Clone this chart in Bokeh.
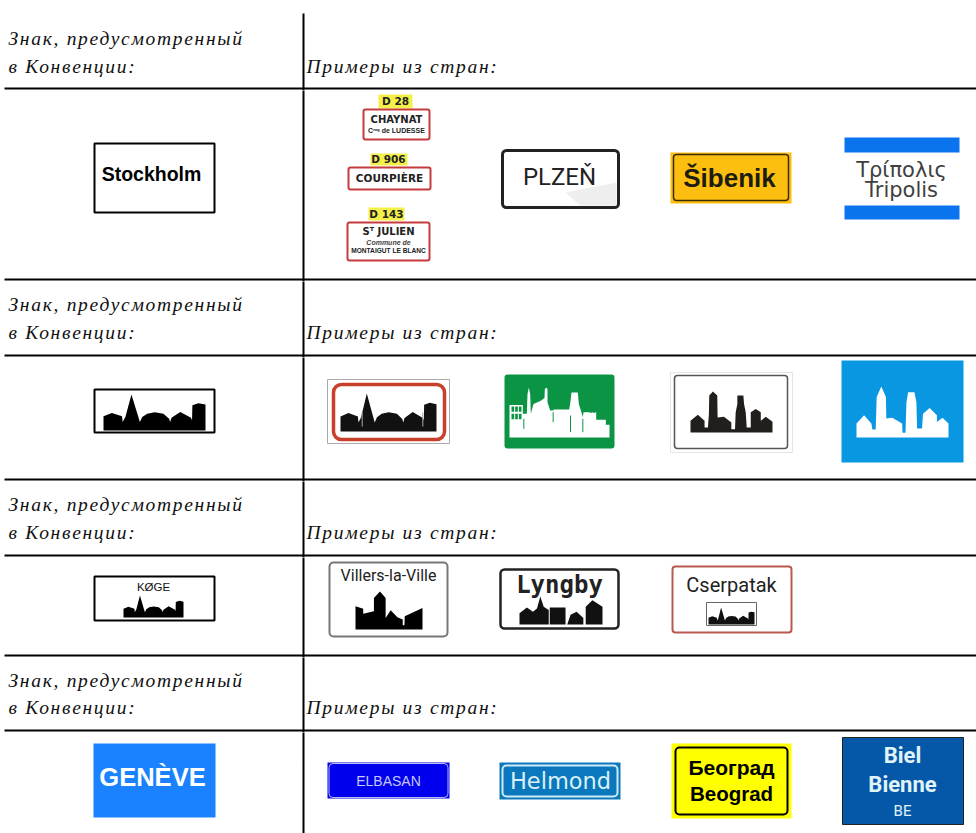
from bokeh.embed import file_html
from bokeh.layouts import column
from bokeh.models import Range1d
from bokeh.plotting import figure
from bokeh.resources import INLINE

# Text content of the table
HEADER_LEFT = ["Знак, предусмотренный", "в Конвенции:"]
HEADER_RIGHT = "Примеры из стран:"
STOCKHOLM = "Stockholm"
ROUTE_LABELS = ["D 28", "D 906", "D 143"]
CHAYNAT = ["CHAYNAT", "Cᵐᵉ de LUDESSE"]
COURPIERE = "COURPIÈRE"
JULIEN = ["Sᵀ JULIEN", "Commune de", "MONTAIGUT LE BLANC"]
PLZEN = "PLZEŇ"
SIBENIK = "Šibenik"
TRIPOLIS = ["Τρίπολις", "Tripolis"]
KOGE = "KØGE"
VILLERS = "Villers-la-Ville"
LYNGBY = "Lyngby"
CSERPATAK = "Cserpatak"
GENEVE = "GENÈVE"
ELBASAN = "ELBASAN"
HELMOND = "Helmond"
BEOGRAD = ["Београд", "Beograd"]
BIEL = ["Biel", "Bienne", "BE"]

# Silhouette outlines
TOWN_A = [(70,210),(70,168),(95,158),(125,168),(127,185),(135,170),(153,103),(172,165),(178,185),(185,170),
          (200,160),(222,156),(248,160),(265,175),(268,185),(272,172),(298,155),(330,172),(333,180),
          (334,135),(352,129),(373,133),(373,210)]
TOWN_B = [(600,215),(600,180),(622,162),(642,180),(642,200),(652,200),(655,160),(656,105),(667,93),(680,105),
          (681,170),(700,168),(722,185),(722,205),(733,205),(735,155),(740,130),(740,105),(758,105),(760,130),
          (765,155),(768,200),(780,200),(780,155),(795,145),(810,155),(810,180),(825,168),(845,183),(845,215)]
TOWN_C = [(1097,232),(1097,190),(1120,165),(1142,190),(1145,208),(1155,208),(1158,110),(1172,78),(1186,110),
          (1187,175),(1205,172),(1235,190),(1236,218),(1245,218),(1248,125),(1253,95),(1272,95),(1278,125),
          (1280,205),(1295,205),(1298,160),(1318,143),(1340,165),(1340,185),(1357,172),(1375,190),(1375,232)]
TOWN_MOSQUE = [(58,232),(58,133),(98,133),(98,160),(110,160),(112,100),(116,80),(120,100),(122,160),(130,130),
               (152,120),(163,112),(164,85),(168,80),(172,85),(172,125),(180,150),(190,150),(190,147),(237,147),
               (240,130),(244,95),(263,95),(266,130),(272,150),(278,170),(280,155),(318,155),(318,178),(347,178),
               (347,193),(358,193),(358,232)]
TOWN_CASTLE = [(825,220),(825,150),(848,157),(848,172),(880,165),(880,125),(898,105),(915,125),(915,185),
               (930,162),(950,183),(966,190),(966,207),(971,207),(972,180),(1025,155),(1025,220)]
TOWN_LYNGBY = [(88,205),(88,170),(110,152),(128,165),(140,155),(150,118),(160,150),(175,160),(175,205),
               (178,205),(178,152),(225,152),(225,205),(230,205),(240,175),(258,165),(278,185),(278,205),
               (285,205),(285,150),(305,130),(335,150),(335,205)]

STRIP_EDGES = [0, 90, 281, 357, 481, 557, 657, 732, 833]
RULES = [88, 279, 355, 479, 555, 655, 730]
HEADER_MIDLINES = [(39, 66.5), (305, 332.5), (505, 532.5), (681, 707.5)]

p = None


def strip(y0, y1, spaced=False):
    global p
    styles = {"letter-spacing": "1.7px"} if spaced else {}
    p = figure(width=976, height=y1 - y0, output_backend="svg", toolbar_location=None,
               x_range=Range1d(0, 976), y_range=Range1d(y1, y0), min_border=0,
               outline_line_color=None, styles=styles)
    p.xaxis.visible = False
    p.yaxis.visible = False
    p.grid.visible = False
    for y in RULES:
        if y0 < y < y1:
            p.segment(x0=[4], x1=[976], y0=[y], y1=[y], line_color="black", line_width=2)
    top = 13 if y0 == 0 else y0 - 10
    p.segment(x0=[303], x1=[303], y0=[top], y1=[y1 + 10], line_color="black", line_width=2)
    return p


def box(l, t, r, b, fill="white", line=None, lw=1, radius=0):
    p.quad(left=[l], right=[r], top=[t], bottom=[b], fill_color=fill,
           line_color=line, line_width=lw, border_radius=radius)


def label(x, y, s, size, color="black", font="Liberation Sans", style="normal", align="center", baseline="middle"):
    p.text(x=[x], y=[y - 1], text=[s], text_font_size=f"{size}px", text_color=color,
           text_font={"value": font}, text_font_style=style, text_align=align, text_baseline=baseline)


def town(outline, l, t, r, b, color="#111111"):
    xs = [q[0] for q in outline]
    ys = [q[1] for q in outline]
    x0, x1, y0, y1 = min(xs), max(xs), min(ys), max(ys)
    p.patch([l + (x - x0) / (x1 - x0) * (r - l) for x in xs],
            [t + (y - y0) / (y1 - y0) * (b - t) for y in ys],
            fill_color=color, line_color=None)


def header(i):
    y1, y2 = HEADER_MIDLINES[i]
    strip(STRIP_EDGES[2 * i], STRIP_EDGES[2 * i + 1], spaced=True)
    for x, y, s in [(8, y1, HEADER_LEFT[0]), (8, y2, HEADER_LEFT[1]), (306, y2, HEADER_RIGHT)]:
        label(x, y, s, 19.5, "#111111", "Liberation Serif", "italic", "left", "middle")
    return p


strips = []

# --- header 1 and row 1
strips.append(header(0))
strips.append(strip(90, 281))
box(94, 143, 214, 212, line="black", lw=2)
label(151, 174, STOCKHOLM, 19.5, style="bold")

RED = "#c53a3c"
YEL = "#f4f04a"
INK = "#222222"
box(378, 94, 412, 108, fill=YEL)
label(395, 101, ROUTE_LABELS[0], 10.5, INK, "DejaVu Sans", "bold")
box(363, 109, 429, 139, line=RED, lw=2, radius=2)
label(396, 120, CHAYNAT[0], 10, INK, "DejaVu Sans", "bold")
label(396, 131, CHAYNAT[1], 7, INK, "Liberation Sans", "bold")
box(370, 153, 407, 165, fill=YEL)
label(388, 159, ROUTE_LABELS[1], 10.5, INK, "DejaVu Sans", "bold")
box(348, 167, 430, 189, line=RED, lw=2, radius=2)
label(389, 178, COURPIERE, 10.5, INK, "DejaVu Sans", "bold")
box(368, 207, 404, 220, fill=YEL)
label(386, 214, ROUTE_LABELS[2], 10.5, INK, "DejaVu Sans", "bold")
box(347, 222, 429, 260, line=RED, lw=2, radius=2)
label(388, 232, JULIEN[0], 10, INK, "DejaVu Sans", "bold")
label(388, 243, JULIEN[1], 7, "#444444", "Liberation Sans", "bold italic")
label(388, 251, JULIEN[2], 6.6, INK, "Liberation Sans", "bold")

box(502, 150, 618, 207, line=INK, lw=3, radius=4)
p.patch([565, 616, 616, 580], [192, 182, 205, 205], fill_color="#eeeeee", line_color=None)
label(559, 177, PLZEN, 24, INK, "Roboto")

box(670, 152, 791, 203, fill="#fdbf0f")
box(673, 154, 788, 200, fill="#fdbf0f", line="#3a2c08", lw=1.5, radius=3)
label(729, 178, SIBENIK, 26, "#1c1c10", "Liberation Sans", "bold")

box(844, 137, 959, 152, fill="#0a73ee")
box(844, 205, 959, 219, fill="#0a73ee")
label(901, 170, TRIPOLIS[0], 21, "#404040", "DejaVu Sans")
label(901, 190, TRIPOLIS[1], 21, "#404040", "DejaVu Sans")

# --- header 2 and row 2
strips.append(header(1))
strips.append(strip(357, 481))
box(94, 389, 214, 432, line="black", lw=2)
town(TOWN_A, 103, 394, 205, 430, "black")

box(327, 379, 449, 443, line="#aaaaaa", lw=1)
box(333, 384, 444, 439, line="#c8402c", lw=3.5, radius=8)
town(TOWN_A, 340, 393, 436, 431)
for x in (361.7, 422.3):
    p.segment(x0=[x], x1=[x], y0=[412], y1=[426], line_color="#aaaaaa", line_width=1)

box(504, 374, 614, 448, fill="#0a9444", radius=3)
town(TOWN_MOSQUE, 509, 387, 609, 437, "white")
GREEN = "#0a9444"
for i in range(3):
    for b in (138, 160):
        box(490 + (63 + 11 * i) / 3, 360 + b / 3, 490 + (71 + 11 * i) / 3, 360 + (b + 16) / 3, fill=GREEN)
for i in range(2):
    box(490 + (297 + 10 * i) / 3, 360 + 140 / 3, 490 + (304 + 10 * i) / 3, 360 + 157 / 3, fill=GREEN)
for x, y0, y1 in [(100, 175, 205), (240, 165, 215), (277, 175, 215), (188, 155, 185)]:
    p.segment(x0=[490 + x / 3], x1=[490 + x / 3], y0=[360 + y0 / 3], y1=[360 + y1 / 3],
              line_color=GREEN, line_width=1)

box(670, 372, 792, 452, line="#e4e4e4", lw=1)
box(674, 375, 787, 448, line="#555555", lw=1.5, radius=3)
town(TOWN_B, 690, 391, 772, 432, "#221e1c")

box(841, 360, 963, 462, fill="#0a97e2")
town(TOWN_C, 856, 386, 948, 437, "white")

# --- header 3 and row 3
strips.append(header(2))
strips.append(strip(557, 657))
box(94, 576, 214, 620, line="black", lw=2)
label(153, 587, KOGE, 11.5, "#111111")
town(TOWN_A, 123, 595, 183, 617, "black")

box(329, 562, 447, 636, line="#777777", lw=2, radius=4)
label(388, 576, VILLERS, 16, INK, "Roboto")
town(TOWN_CASTLE, 355, 591, 422, 629, "black")

box(500, 569, 618, 628, line=INK, lw=2.5, radius=4)
label(559, 585, LYNGBY, 24, INK, "DejaVu Sans Mono", "bold")
town(TOWN_LYNGBY, 519, 596, 602, 624, "#111111")

box(672, 566, 791, 632, line="#b9584e", lw=2, radius=3)
label(731, 585, CSERPATAK, 20, INK, "Roboto")
box(706, 602, 756, 625, line="#666666", lw=1)
town(TOWN_A, 708, 607, 754, 624, "#111111")

# --- header 4 and row 4
strips.append(header(3))
strips.append(strip(732, 833))
box(93, 743, 215, 817, fill="#1a82ff")
label(152, 777, GENEVE, 25.5, "white", "Liberation Sans", "bold")

box(327, 762, 449, 798, fill="#0000ee")
box(328.5, 763, 447.5, 797, fill="#0000ee", line="#b8b8f0", lw=1, radius=4)
label(388, 781, ELBASAN, 14, "#c8c8ff")

box(499, 762, 620, 799, fill="#0b78bd")
box(502, 765, 617, 796, fill="#0b78bd", line="#cfeaf4", lw=2, radius=4)
label(560, 781, HELMOND, 22.5, "#d8f0f8", "DejaVu Sans")

box(671, 743, 791, 818, fill="#ffff00")
box(675, 747, 787, 814, fill="#ffff00", line="black", lw=2, radius=4)
label(731, 768, BEOGRAD[0], 21, "black", "Liberation Sans", "bold")
label(731, 794, BEOGRAD[1], 20.5, "black", "Liberation Sans", "bold")

box(842, 737, 963, 824, fill="#0558a8", line="#222222", lw=1)
label(902, 756, BIEL[0], 22, "#e0f4fa", "Roboto", "bold")
label(902, 785, BIEL[1], 22, "#e0f4fa", "Roboto", "bold")
label(902, 811, BIEL[2], 15, "#e0f4fa", "Roboto")

page = column(*strips, spacing=0, styles={"position": "absolute", "left": "0px", "top": "0px"})
open("out.html", "w").write(file_html(page, INLINE))
